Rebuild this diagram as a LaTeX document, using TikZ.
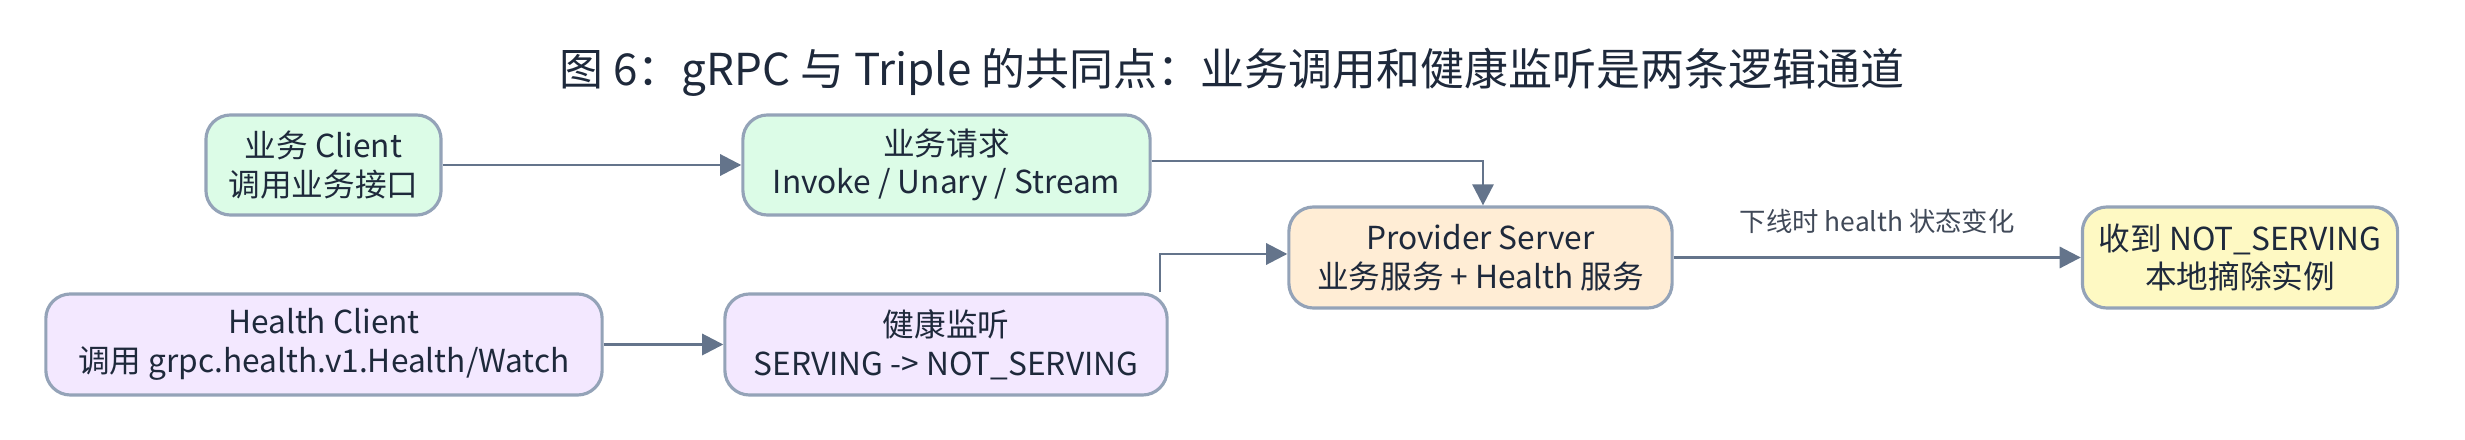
\documentclass[tikz,border=0pt]{standalone}
\usepackage{fontspec}
\setmainfont{Noto Sans CJK SC}
\usetikzlibrary{arrows.meta}
\definecolor{edge}{HTML}{64748B}
\definecolor{bord}{HTML}{94A3B8}
\definecolor{txt}{HTML}{1E293B}
\definecolor{fgreen}{HTML}{DCFCE7}
\definecolor{fpurple}{HTML}{F3E8FF}
\definecolor{forange}{HTML}{FFEDD5}
\definecolor{fyellow}{HTML}{FEF9C3}
\begin{document}
\begin{tikzpicture}[x=0.01cm,y=-0.01cm,
  box/.style={draw=bord,line width=0.9pt,rounded corners=7pt,align=center,font=\fontsize{9}{11}\selectfont,text=txt,inner sep=0pt},
  arr/.style={draw=edge,line width=0.8pt,-{Triangle[length=6pt,width=6pt]}}]
\useasboundingbox (0,0) rectangle (2465,440);
\node[font=\fontsize{12.5}{14}\selectfont,text=txt] (title) at (1232,72) {图 6：gRPC 与 Triple 的共同点：业务调用和健康监听是两条逻辑通道};
\node[box,fill=fgreen,minimum width=2.35cm,minimum height=1.0cm] (bc) at (323.5,165) {业务 Client\\调用业务接口};
\node[box,fill=fgreen,minimum width=4.07cm,minimum height=1.0cm] (br) at (946.5,165) {业务请求\\Invoke / Unary / Stream};
\node[box,fill=fpurple,minimum width=5.56cm,minimum height=1.01cm] (hc) at (324,344.5) {Health Client\\调用 grpc.health.v1.Health/Watch};
\node[box,fill=fpurple,minimum width=4.42cm,minimum height=1.01cm] (hm) at (946,344.5) {健康监听\\SERVING -> NOT\_SERVING};
\node[box,fill=forange,minimum width=3.83cm,minimum height=1.01cm] (ps) at (1480.5,257.5) {Provider Server\\业务服务 + Health 服务};
\node[box,fill=fyellow,minimum width=3.15cm,minimum height=1.01cm] (dn) at (2240,257.5) {收到 NOT\_SERVING\\本地摘除实例};
\coordinate (c1) at (1483,161);
\coordinate (c2) at (1160,254);
\draw[arr] (bc) -- (br);
\draw[arr] (br.east |- c1) -- (c1) -- (c1 |- ps.north);
\draw[arr] (hc) -- (hm);
\draw[arr] (c2 |- hm.north) -- (c2) -- (c2 -| ps.west);
\draw[arr] (ps) -- node[above=3pt,font=\fontsize{7.5}{9}\selectfont,text=txt!85] (lbl) {下线时 health 状态变化} (dn);
\end{tikzpicture}
\end{document}
